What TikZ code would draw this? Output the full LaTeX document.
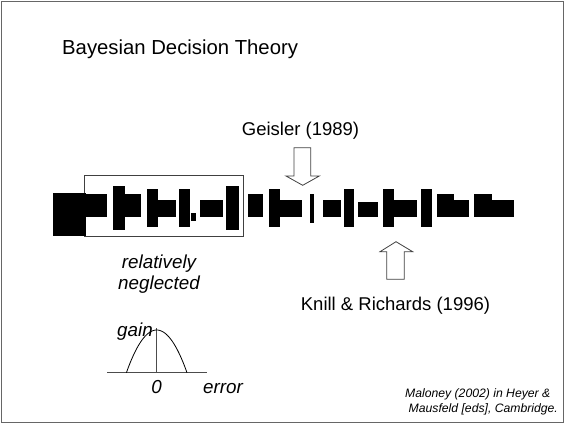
\documentclass[tikz,border=0pt]{standalone}
\usepackage{fontspec}
\setmainfont{Liberation Sans}
\begin{document}
\begin{tikzpicture}[x=1pt,y=-1pt,
  outline/.style={draw=black!75,line width=0.8pt},
  glyph/.style={fill=black},
  label/.style={inner sep=0pt,font=\fontsize{18.5}{22}\selectfont},
  ilabel/.style={label,font=\fontsize{18.8}{22}\selectfont\itshape},
  note/.style={inner sep=0pt,font=\fontsize{12.2}{14}\selectfont\itshape}]
\useasboundingbox (0,0) rectangle (565,424);
% slide frame
\draw[black!60,line width=0.6pt] (1.5,1.5) rectangle (563.5,422.5);

% title
\node[inner sep=0pt,anchor=base west,font=\fontsize{20.3}{24}\selectfont] (title) at (62,54) {Bayesian Decision Theory};

% region marked as relatively neglected
\draw[outline] (84.3,175.3) rectangle (243.3,236.7);

% row of black blocks
\foreach \a/\b/\c/\d in {
  53/193/86/236, 86/194/107/216.7,
  112.7/186/125/230, 125/194/141/216.7,
  147.3/189.3/158.3/227.3, 158.3/200/176/216.7,
  179.3/189.3/190/227.3, 191/213.3/195.7/221,
  200/200/222.7/216.7, 226/185.7/238.7/230,
  247.7/194/263.3/216.7, 269/189.3/280/227.3, 280/200/302.3/216.7,
  310/194/314.3/223.3, 323.3/200/340.7/216.7,
  344/189.3/354.3/227.3, 358.3/202.3/377.7/216.7,
  383.3/189.3/394.3/227.3, 394.3/200/416.7/216.7,
  421/189.3/431.7/227.3,
  436.7/194/454.3/216.7, 454.3/200/469.3/216.7,
  474.3/194/491.7/216.7, 491.7/200/514/216.7}
  \fill[glyph] (\a,\b) rectangle (\c,\d);

% Geisler: downward block arrow
\node[label,anchor=base] (geisler) at (300.5,135) {Geisler (1989)};
\draw[outline,line join=miter] (294,147.7) -- (310.7,147.7) -- (310.7,176) -- (319.3,176)
  -- (302.7,185.3) -- (286,176) -- (294,176) -- cycle;

% Knill & Richards: upward block arrow
\draw[outline,line join=miter] (386.7,279.3) -- (404.3,279.3) -- (404.3,251.7) -- (412.7,251.7)
  -- (396,241.7) -- (380,251.7) -- (386.7,251.7) -- cycle;
\node[label,anchor=base] (knill) at (395.5,310) {Knill \& Richards (1996)};

% note under the boxed region
\node[ilabel,anchor=base] (rel) at (159,268) {relatively};
\node[ilabel,anchor=base] (neg) at (159,289) {neglected};

% gain function sketch
\coordinate (axl) at (107.3,372.7);
\coordinate (axr) at (206.7,372.7);
\coordinate (top) at (156.7,328);
\coordinate (zero) at (156.7,372.7);
\draw[black!70,line width=0.8pt] (axl) -- (axr);
\draw[black!70,line width=0.8pt] (zero) -- (top);
\draw[black,line width=0.8pt,domain=-30.3:30.3,samples=60,smooth]
  plot ({156.7+\x},{330+42.7*(\x/30.3)*(\x/30.3)});
\node[ilabel,anchor=base west] (gain) at (117,336) {gain};
\node[ilabel,anchor=base] (zlab) at (156.5,393) {0};
\node[ilabel,anchor=base west] (err) at (203,393) {error};

% reference
\node[note,anchor=base west] (ref1) at (405,397) {Maloney (2002) in Heyer \&};
\node[note,anchor=base west] (ref2) at (408.5,412) {Mausfeld [eds], Cambridge.};
\end{tikzpicture}
\end{document}
